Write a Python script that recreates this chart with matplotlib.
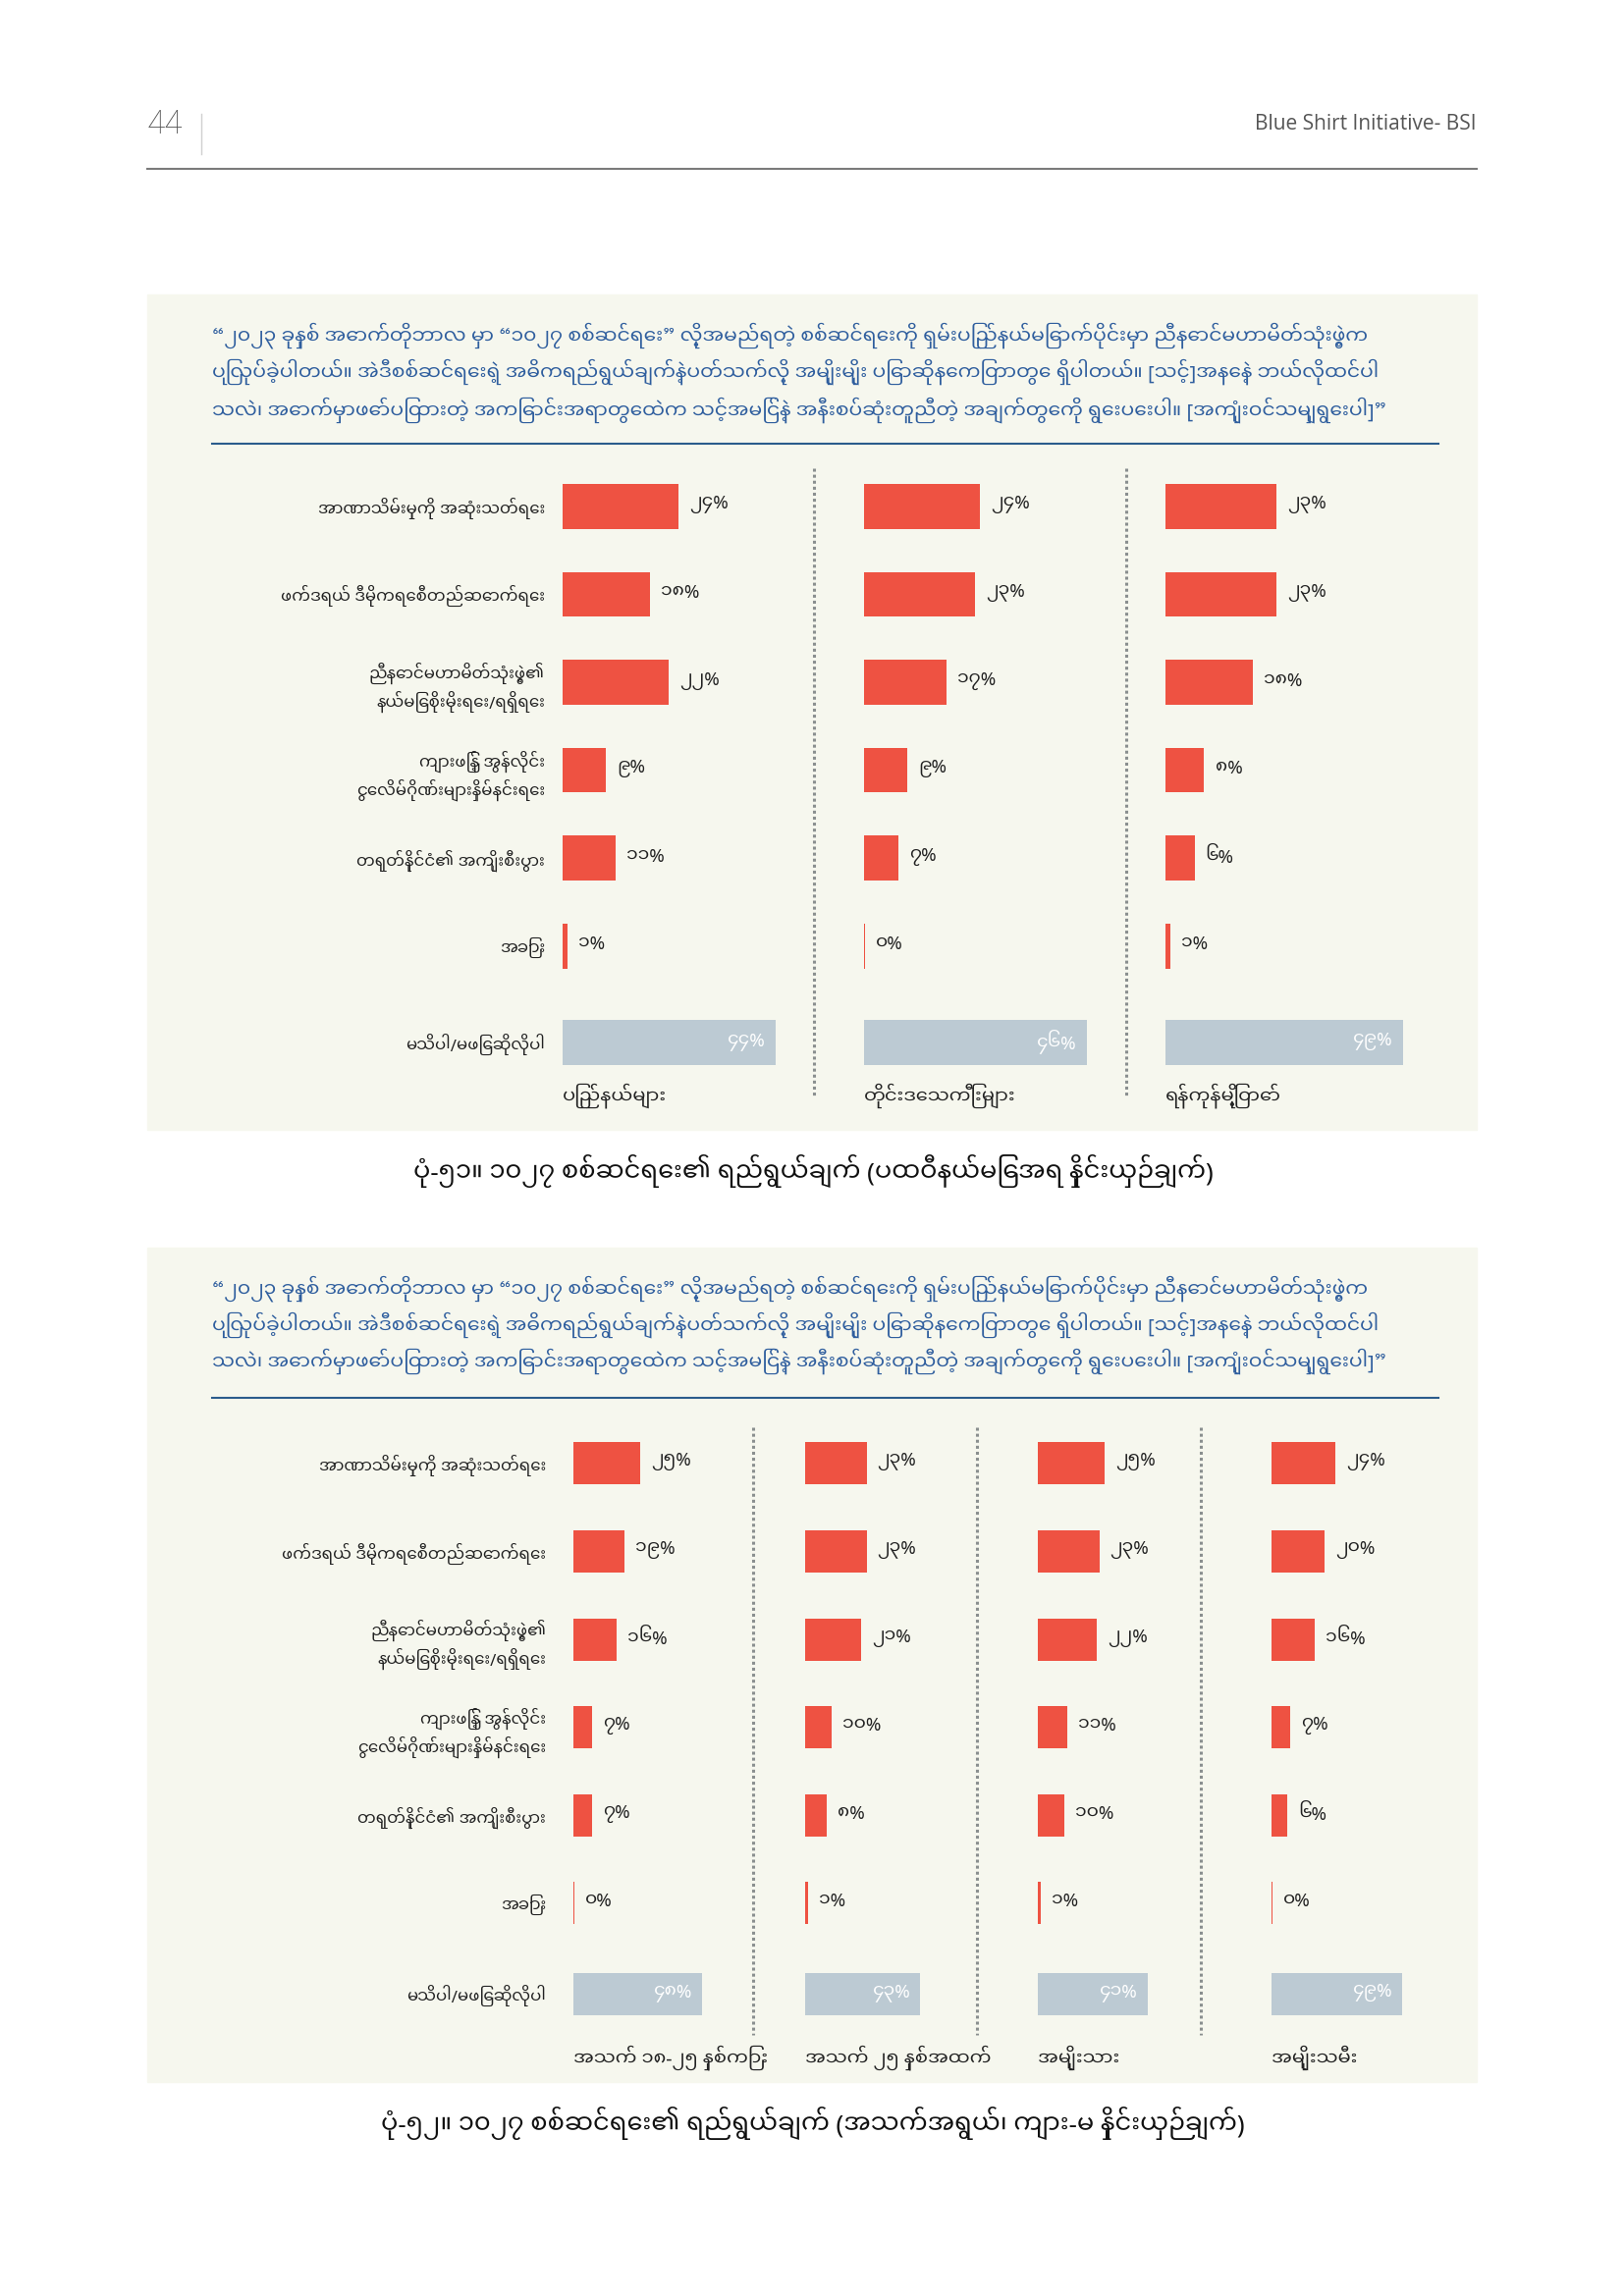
import numpy as np
import matplotlib
matplotlib.use('Agg')
import matplotlib.pyplot as plt
from matplotlib.patches import Rectangle
from matplotlib.lines import Line2D

"""Two panels of horizontal bars: aims of operation 1027 by area, age and sex"""

MM_FONTS = ['Noto Sans Myanmar UI', 'Noto Sans Myanmar', 'Padauk', 'Noto Sans', 'DejaVu Sans']
plt.rcParams['font.family'] = MM_FONTS

W, H = 1654, 2339

categories = ['အာဏာသိမ်းမှုကို အဆုံးသတ်ရေး',
              'ဖက်ဒရယ် ဒီမိုကရေစီတည်ဆောက်ရေး',
              'ညီနောင်မဟာမိတ်သုံးဖွဲ့၏\nနယ်မြေစိုးမိုးရေး/ရရှိရေး',
              'ကျားဖြန့် အွန်လိုင်း\nငွေလိမ်ဂိုဏ်းများနှိမ်နင်းရေး',
              'တရုတ်နိုင်ငံ၏ အကျိုးစီးပွား',
              'အခြား',
              'မသိပါ/မဖြေဆိုလိုပါ']

# chart 1 - by area
area_groups = ['ပြည်နယ်များ', 'တိုင်းဒေသကြီးများ', 'ရန်ကုန်မြို့တော်']
states = [24, 18, 22, 9, 11, 1, 44]
regions = [24, 23, 17, 9, 7, 0, 46]
yangon = [23, 23, 18, 8, 6, 1, 49]

# chart 2 - by age and sex
age_sex_groups = ['အသက် ၁၈-၂၅ နှစ်ကြား', 'အသက် ၂၅ နှစ်အထက်', 'အမျိုးသား', 'အမျိုးသမီး']
age_18_25 = [25, 19, 16, 7, 7, 0, 48]
age_over_25 = [23, 23, 21, 10, 8, 1, 43]
men = [25, 23, 22, 11, 10, 1, 41]
women = [24, 20, 16, 7, 6, 0, 49]

question = ['“၂၀၂၃ ခုနှစ် အောက်တိုဘာလ မှာ “၁၀၂၇ စစ်ဆင်ရေး” လို့အမည်ရတဲ့ စစ်ဆင်ရေးကို ရှမ်းပြည်နယ်မြောက်ပိုင်းမှာ ညီနောင်မဟာမိတ်သုံးဖွဲ့က',
            'ပြုလုပ်ခဲ့ပါတယ်။ အဲဒီစစ်ဆင်ရေးရဲ့ အဓိကရည်ရွယ်ချက်နဲ့ပတ်သက်လို့ အမျိုးမျိုး ပြောဆိုနေကြတာတွေ ရှိပါတယ်။ [သင့်]အနေနဲ့ ဘယ်လိုထင်ပါ',
            'သလဲ၊ အောက်မှာဖော်ပြထားတဲ့ အကြောင်းအရာတွေထဲက သင့်အမြင်နဲ့ အနီးစပ်ဆုံးတူညီတဲ့ အချက်တွေကို ရွေးပေးပါ။ [အကျုံးဝင်သမျှရွေးပါ]”']

caption1 = 'ပုံ-၅၁။ ၁၀၂၇ စစ်ဆင်ရေး၏ ရည်ရွယ်ချက် (ပထဝီနယ်မြေအရ နှိုင်းယှဉ်ချက်)'
caption2 = 'ပုံ-၅၂။ ၁၀၂၇ စစ်ဆင်ရေး၏ ရည်ရွယ်ချက် (အသက်အရွယ်၊ ကျား-မ နှိုင်းယှဉ်ချက်)'

RED = '#EE5242'
GREY = '#BCCAD3'
BG = '#F6F7EE'
BLUE = '#2F5E9E'
MM_DIGITS = str.maketrans('0123456789', '၀၁၂၃၄၅၆၇၈၉')


def fx(x):
    return x / W


def fy(y):
    return 1 - y / H


def mm_pct(v):
    return (str(v) + '%').translate(MM_DIGITS)


def draw_block(fig, panel_top, panel_bottom, quote_y, rule_y, row_top, row_bottom,
               ypos, bar_h, groups, series, bar_x, scale, dividers, div_span,
               group_gap, label_pad):
    fig.patches.append(Rectangle((fx(150), fy(panel_bottom)), fx(1354), (panel_bottom - panel_top) / H,
                                 transform=fig.transFigure, color=BG, zorder=-5))
    for i, line in enumerate(question):
        fig.text(fx(216), fy(quote_y[i]), line, color=BLUE, fontsize=14.6, style='italic',
                 ha='left', va='center')
    fig.add_artist(Line2D([fx(216), fx(1465)], [fy(rule_y), fy(rule_y)], color='#2B5C8C', lw=1.5))
    for d in dividers:
        fig.add_artist(Line2D([fx(d), fx(d)], [fy(div_span[0]), fy(div_span[1])],
                              color='#8A8F8F', lw=2.2, linestyle=(0, (1, 1))))

    ax_w = 270
    for i, (grp, vals) in enumerate(zip(groups, series)):
        ax = fig.add_axes([fx(bar_x[i]), fy(row_bottom), fx(ax_w), (row_bottom - row_top) / H])
        ax.set_facecolor('none')
        colors = [RED] * (len(vals) - 1) + [GREY]
        shown = [max(v, 0.25) for v in vals]
        ax.barh(ypos, shown, height=bar_h, color=colors, linewidth=0)
        ax.set_xlim(0, ax_w / scale)
        ax.set_ylim(ypos[-1] + 0.5, -0.5)
        for k, v in enumerate(vals):
            if k == len(vals) - 1:
                ax.annotate(mm_pct(v), (v, ypos[k]), xytext=(-7, 1), textcoords='offset points',
                            ha='right', va='center', color='white', fontsize=13.5,
                            annotation_clip=False)
            else:
                ax.annotate(mm_pct(v), (shown[k], ypos[k]), xytext=(8, 1), textcoords='offset points',
                            ha='left', va='center', color='#222222', fontsize=13.5,
                            annotation_clip=False)
        ax.text(0, ypos[-1] + group_gap, grp, ha='left', va='center', fontsize=14, color='#222222')
        for s in ax.spines.values():
            s.set_visible(False)
        ax.set_xticks([])
        ax.tick_params(axis='y', length=0, pad=label_pad, labelsize=12, labelcolor='#222222')
        if i == 0:
            ax.set_yticks(ypos)
            ax.set_yticklabels(categories, ha='right', linespacing=1.35)
        else:
            ax.set_yticks([])


fig = plt.figure(figsize=(W / 100, H / 100), dpi=100)
fig.patch.set_facecolor('white')

# page header
fig.text(fx(150), fy(127), '44', fontsize=24, color='#555555', ha='left', va='center',
         family=['Roboto', 'DejaVu Sans'], fontweight='light', fontstretch='condensed')
fig.add_artist(Line2D([fx(205), fx(205)], [fy(116), fy(157)], color='#D0D0D0', lw=1))
fig.text(fx(1504), fy(127), 'Blue Shirt Initiative- BSI', fontsize=15, color='#555555',
         ha='right', va='center', family=['Open Sans', 'DejaVu Sans'])
fig.add_artist(Line2D([fx(150), fx(1504)], [fy(172), fy(172)], color='#7A7A7A', lw=1.5))

draw_block(fig, 300, 1151, [342, 379, 418], 452, 471, 1107,
           [0, 1, 2, 3, 4, 5, 6.1], 0.51, area_groups, [states, regions, yangon],
           [573, 880, 1187], 4.93, [829, 1147], (477, 1116), 0.6, 13)
fig.text(fx(828), fy(1193), caption1, fontsize=18.5, color='#111111', ha='center', va='center')

draw_block(fig, 1271, 2121, [1313, 1350, 1387], 1424, 1446, 2076,
           [0, 1, 2, 3, 4, 5, 6.03], 0.48, age_sex_groups, [age_18_25, age_over_25, men, women],
           [584, 820, 1057, 1295], 2.72, [767, 995, 1223], (1454, 2073), 0.73, 20)
fig.text(fx(828), fy(2163), caption2, fontsize=18.5, color='#111111', ha='center', va='center')

fig.savefig('out.png', dpi=100, facecolor='white')
